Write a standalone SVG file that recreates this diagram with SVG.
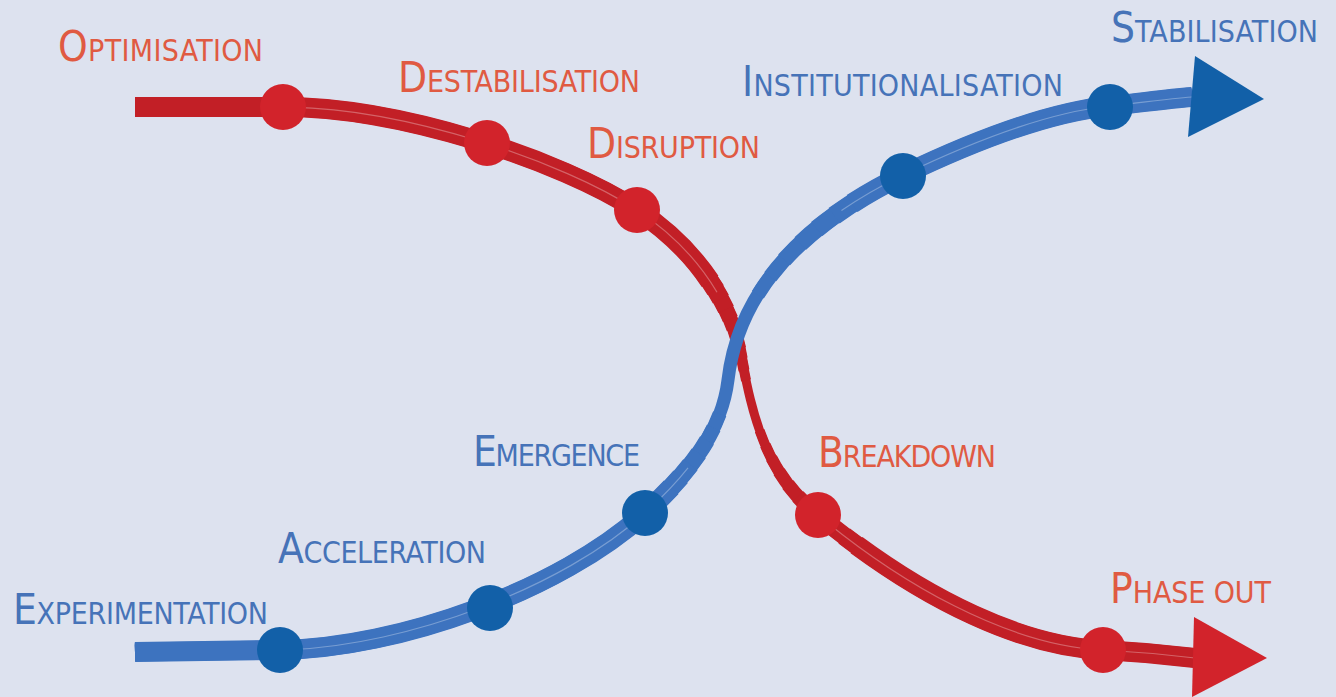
<svg xmlns="http://www.w3.org/2000/svg" width="1336" height="697" viewBox="0 0 1336 697">
<defs>
<style>
.lbl{font-family:"DejaVu Sans Condensed","DejaVu Sans",sans-serif;font-size:30px}
.big{font-size:42px}
.red{fill:#e05a42}
.blue{fill:#4673b8}
.rl{fill:none;stroke:#c21f26;stroke-linecap:butt}
.bl{fill:none;stroke:#3d73bf;stroke-linecap:butt}
.hl{fill:none;stroke:#ffffff;stroke-opacity:0.3;stroke-width:1.2}
.rdot{fill:#d2232b}
.bdot{fill:#1260a8}
</style>
</defs>
<rect width="1336" height="697" fill="#dde2ef"/>
<g id="connectors">
<g id="red-line">
<path class="rl" pathLength="100" stroke-width="9" d="M135,107 L283,107 C400,107 560,160 637,210 C690,245 728,295 740,350 C750,400 760,470 818,515 C890,575 1000,645 1103,650 C1140,652 1170,655 1195,658"/>
<path class="rl" pathLength="100" stroke-width="10" stroke-dasharray="56.2 4 200" d="M135,107 L283,107 C400,107 560,160 637,210 C690,245 728,295 740,350 C750,400 760,470 818,515 C890,575 1000,645 1103,650 C1140,652 1170,655 1195,658"/>
<path class="rl" pathLength="100" stroke-width="11" stroke-dasharray="55.4 6 200" d="M135,107 L283,107 C400,107 560,160 637,210 C690,245 728,295 740,350 C750,400 760,470 818,515 C890,575 1000,645 1103,650 C1140,652 1170,655 1195,658"/>
<path class="rl" pathLength="100" stroke-width="12" stroke-dasharray="54.5 8 200" d="M135,107 L283,107 C400,107 560,160 637,210 C690,245 728,295 740,350 C750,400 760,470 818,515 C890,575 1000,645 1103,650 C1140,652 1170,655 1195,658"/>
<path class="rl" pathLength="100" stroke-width="13" stroke-dasharray="53.7 10 200" d="M135,107 L283,107 C400,107 560,160 637,210 C690,245 728,295 740,350 C750,400 760,470 818,515 C890,575 1000,645 1103,650 C1140,652 1170,655 1195,658"/>
<path class="rl" pathLength="100" stroke-width="14" stroke-dasharray="52.9 12 200" d="M135,107 L283,107 C400,107 560,160 637,210 C690,245 728,295 740,350 C750,400 760,470 818,515 C890,575 1000,645 1103,650 C1140,652 1170,655 1195,658"/>
<path class="rl" pathLength="100" stroke-width="15" stroke-dasharray="52.1 14 200" d="M135,107 L283,107 C400,107 560,160 637,210 C690,245 728,295 740,350 C750,400 760,470 818,515 C890,575 1000,645 1103,650 C1140,652 1170,655 1195,658"/>
<path class="rl" pathLength="100" stroke-width="16" stroke-dasharray="51.3 16 200" d="M135,107 L283,107 C400,107 560,160 637,210 C690,245 728,295 740,350 C750,400 760,470 818,515 C890,575 1000,645 1103,650 C1140,652 1170,655 1195,658"/>
<path class="rl" pathLength="100" stroke-width="17" stroke-dasharray="50.5 18 200" d="M135,107 L283,107 C400,107 560,160 637,210 C690,245 728,295 740,350 C750,400 760,470 818,515 C890,575 1000,645 1103,650 C1140,652 1170,655 1195,658"/>
<path class="rl" pathLength="100" stroke-width="18" stroke-dasharray="49.6 20 200" d="M135,107 L283,107 C400,107 560,160 637,210 C690,245 728,295 740,350 C750,400 760,470 818,515 C890,575 1000,645 1103,650 C1140,652 1170,655 1195,658"/>
<path class="rl" pathLength="100" stroke-width="19" stroke-dasharray="48.8 22 200" d="M135,107 L283,107 C400,107 560,160 637,210 C690,245 728,295 740,350 C750,400 760,470 818,515 C890,575 1000,645 1103,650 C1140,652 1170,655 1195,658"/>
<path class="rl" pathLength="100" stroke-width="20" stroke-dasharray="48 24 200" d="M135,107 L283,107 C400,107 560,160 637,210 C690,245 728,295 740,350 C750,400 760,470 818,515 C890,575 1000,645 1103,650 C1140,652 1170,655 1195,658"/>
<path class="hl" pathLength="100" stroke-dasharray="0 12 37 20 31 200" d="M135,107 L283,107 C400,107 560,160 637,210 C690,245 728,295 740,350 C750,400 760,470 818,515 C890,575 1000,645 1103,650 C1140,652 1170,655 1195,658"/>
</g>
<g id="blue-line">
<path class="bl" pathLength="100" stroke-width="13" d="M135,652 L280,650 C400,648 560,590 645,513 C690,472 722,430 728,380 C735,320 770,240 903,175 C980,138 1050,112 1110,106 C1140,103 1165,99 1192,97"/>
<path class="bl" pathLength="100" stroke-width="14" stroke-dasharray="51.9 9.8 200" d="M135,652 L280,650 C400,648 560,590 645,513 C690,472 722,430 728,380 C735,320 770,240 903,175 C980,138 1050,112 1110,106 C1140,103 1165,99 1192,97"/>
<path class="bl" pathLength="100" stroke-width="15" stroke-dasharray="50.7 12.7 200" d="M135,652 L280,650 C400,648 560,590 645,513 C690,472 722,430 728,380 C735,320 770,240 903,175 C980,138 1050,112 1110,106 C1140,103 1165,99 1192,97"/>
<path class="bl" pathLength="100" stroke-width="16" stroke-dasharray="49.6 15.5 200" d="M135,652 L280,650 C400,648 560,590 645,513 C690,472 722,430 728,380 C735,320 770,240 903,175 C980,138 1050,112 1110,106 C1140,103 1165,99 1192,97"/>
<path class="bl" pathLength="100" stroke-width="17" stroke-dasharray="48.4 18.5 200" d="M135,652 L280,650 C400,648 560,590 645,513 C690,472 722,430 728,380 C735,320 770,240 903,175 C980,138 1050,112 1110,106 C1140,103 1165,99 1192,97"/>
<path class="bl" pathLength="100" stroke-width="18" stroke-dasharray="47.3 21.3 200" d="M135,652 L280,650 C400,648 560,590 645,513 C690,472 722,430 728,380 C735,320 770,240 903,175 C980,138 1050,112 1110,106 C1140,103 1165,99 1192,97"/>
<path class="bl" pathLength="100" stroke-width="19" stroke-dasharray="46.1 24.2 200" d="M135,652 L280,650 C400,648 560,590 645,513 C690,472 722,430 728,380 C735,320 770,240 903,175 C980,138 1050,112 1110,106 C1140,103 1165,99 1192,97"/>
<path class="bl" pathLength="100" stroke-width="20" stroke-dasharray="45 27 200" d="M135,652 L280,650 C400,648 560,590 645,513 C690,472 722,430 728,380 C735,320 770,240 903,175 C980,138 1050,112 1110,106 C1140,103 1165,99 1192,97"/>
<path class="hl" pathLength="100" stroke-dasharray="0 12 35 24 29 200" d="M135,652 L280,650 C400,648 560,590 645,513 C690,472 722,430 728,380 C735,320 770,240 903,175 C980,138 1050,112 1110,106 C1140,103 1165,99 1192,97"/>
</g>
<polygon id="red-arrow" class="rdot" points="1194,617 1267,658 1192,697"/>
<polygon id="blue-arrow" class="bdot" points="1195,56 1264,99 1188,137"/>
</g>
<g id="optimisation"><circle class="rdot" cx="283" cy="107" r="23"/><text class="lbl red" x="58" y="61" textLength="205"><tspan class="big">O</tspan>PTIMISATION</text></g>
<g id="destabilisation"><circle class="rdot" cx="487" cy="143" r="23"/><text class="lbl red" x="398" y="92" textLength="242"><tspan class="big">D</tspan>ESTABILISATION</text></g>
<g id="disruption"><circle class="rdot" cx="637" cy="210" r="23"/><text class="lbl red" x="587" y="158" textLength="173"><tspan class="big">D</tspan>ISRUPTION</text></g>
<g id="breakdown"><circle class="rdot" cx="818" cy="515" r="23"/><text class="lbl red" x="818" y="467" textLength="178"><tspan class="big">B</tspan>REAKDOWN</text></g>
<g id="phase-out"><circle class="rdot" cx="1103" cy="650" r="23"/><text class="lbl red" x="1110" y="603" textLength="161"><tspan class="big">P</tspan>HASE OUT</text></g>
<g id="experimentation"><circle class="bdot" cx="280" cy="650" r="23"/><text class="lbl blue" x="13" y="624" textLength="255"><tspan class="big">E</tspan>XPERIMENTATION</text></g>
<g id="acceleration"><circle class="bdot" cx="490" cy="608" r="23"/><text class="lbl blue" x="278" y="563" textLength="208"><tspan class="big">A</tspan>CCELERATION</text></g>
<g id="emergence"><circle class="bdot" cx="645" cy="513" r="23"/><text class="lbl blue" x="473" y="466" textLength="167"><tspan class="big">E</tspan>MERGENCE</text></g>
<g id="institutionalisation"><circle class="bdot" cx="903" cy="176" r="23"/><text class="lbl blue" x="742" y="96" textLength="321"><tspan class="big">I</tspan>NSTITUTIONALISATION</text></g>
<g id="stabilisation"><circle class="bdot" cx="1110" cy="107" r="23"/><text class="lbl blue" x="1111" y="42" textLength="207"><tspan class="big">S</tspan>TABILISATION</text></g>
</svg>
